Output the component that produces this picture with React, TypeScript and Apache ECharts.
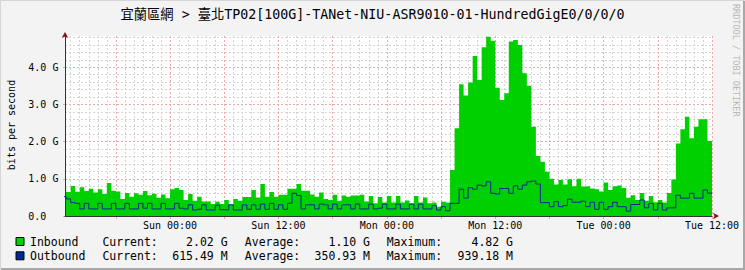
import React, { useEffect, useRef } from "react";
import * as echarts from "echarts";

const chartTitle = "宜蘭區網 > 臺北TP02[100G]-TANet-NIU-ASR9010-01-HundredGigE0/0/0/0";
const yAxisTitle = "bits per second";
const watermark = "RRDTOOL / TOBI OETIKER";

// time axis in hours relative to Sun 00:00; samples every 30 minutes
const firstSampleStart = -12;
const sampleHours = 0.5;
const viewStart = -11.63;
const viewEnd = 60;

// Gbit/s, one value per 30-minute step
const inbound = [
  0.81, 0.645, 0.81, 0.65, 0.77, 0.67, 0.73, 0.63, 0.72, 0.59,
  0.89, 0.68, 0.66, 0.46, 0.62, 0.52, 0.61, 0.57, 0.67, 0.56,
  0.60, 0.49, 0.58, 0.48, 0.72, 0.75, 0.70, 0.43, 0.59, 0.41,
  0.52, 0.39, 0.39, 0.32, 0.385, 0.32, 0.43, 0.31, 0.46, 0.41,
  0.51, 0.51, 0.70, 0.50, 0.86, 0.52, 0.645, 0.52, 0.57, 0.57,
  0.73, 0.73, 0.86, 0.68, 0.68, 0.58, 0.52, 0.63, 0.46, 0.43,
  0.57, 0.41, 0.55, 0.52, 0.55, 0.55, 0.57, 0.39, 0.54, 0.34,
  0.51, 0.36, 0.54, 0.36, 0.54, 0.36, 0.42, 0.34, 0.54, 0.36,
  0.50, 0.34, 0.36, 0.25, 0.385, 0.36, 1.24, 2.36, 3.54, 3.24,
  3.59, 4.30, 3.66, 4.54, 4.82, 4.71, 3.45, 3.12, 3.30, 4.69,
  4.73, 4.60, 3.84, 3.50, 2.40, 1.61, 1.46, 1.19, 1.00, 0.85,
  0.97, 0.85, 0.99, 0.80, 1.00, 0.79, 0.80, 0.74, 0.72, 0.66,
  0.90, 0.70, 0.80, 0.82, 0.75, 0.49, 0.56, 0.43, 0.62, 0.41,
  0.54, 0.37, 0.43, 0.36, 0.62, 0.98, 1.95, 2.33, 2.67, 2.09,
  2.40, 2.60, 2.60, 2.02,
];

const outbound = [
  0.52, 0.46, 0.36, 0.34, 0.19, 0.34, 0.19, 0.19, 0.34, 0.19,
  0.19, 0.34, 0.19, 0.19, 0.34, 0.19, 0.19, 0.34, 0.21, 0.34,
  0.19, 0.19, 0.34, 0.19, 0.19, 0.34, 0.21, 0.19, 0.30, 0.16,
  0.18, 0.30, 0.16, 0.16, 0.29, 0.17, 0.16, 0.30, 0.16, 0.16,
  0.30, 0.18, 0.30, 0.18, 0.32, 0.18, 0.34, 0.18, 0.30, 0.18,
  0.34, 0.61, 0.55, 0.19, 0.30, 0.30, 0.19, 0.32, 0.30, 0.19,
  0.32, 0.19, 0.30, 0.30, 0.19, 0.32, 0.19, 0.19, 0.32, 0.19,
  0.21, 0.32, 0.19, 0.19, 0.32, 0.19, 0.19, 0.32, 0.19, 0.32,
  0.19, 0.19, 0.28, 0.16, 0.25, 0.14, 0.34, 0.34, 0.72, 0.48,
  0.76, 0.72, 0.83, 0.81, 0.92, 0.61, 0.59, 0.74, 0.74, 0.61,
  0.81, 0.72, 0.83, 0.92, 0.94, 0.86, 0.36, 0.36, 0.25, 0.39,
  0.25, 0.28, 0.45, 0.37, 0.37, 0.40, 0.25, 0.37, 0.18, 0.37,
  0.18, 0.25, 0.37, 0.25, 0.25, 0.13, 0.31, 0.31, 0.43, 0.22,
  0.34, 0.16, 0.34, 0.16, 0.22, 0.22, 0.56, 0.48, 0.48, 0.61,
  0.48, 0.48, 0.70, 0.615,
];

const xLabelValues = [0, 12, 24, 36, 48, 60];
const xLabelTexts = ["Sun 00:00", "Sun 12:00", "Mon 00:00", "Mon 12:00", "Tue 00:00", "Tue 12:00"];
const xMajorTickValues = [-6, 0, 6, 12, 18, 24, 30, 36, 42, 48, 54, 60];
const yMax = 4.84;

const legendRows = [
  { name: "Inbound", color: "#00CF00", current: "2.02 G", average: "1.10 G", maximum: "4.82 G" },
  { name: "Outbound", color: "#002A97", current: "615.49 M", average: "350.93 M", maximum: "939.18 M" },
];

const MONO = "'DejaVu Sans Mono', 'Noto Sans CJK TC', monospace";

function toSteps(vals: number[]): number[][] {
  const d = vals.map((v, i) => [firstSampleStart + i * sampleHours, v]);
  d.push([firstSampleStart + vals.length * sampleHours, vals[vals.length - 1]]);
  return d;
}

export default function App() {
  const ref = useRef<HTMLDivElement>(null);
  useEffect(() => {
    if (!ref.current) return;
    const chart = echarts.init(ref.current, undefined, { renderer: "svg" });
    const W = 745;
    const H = 270;
    const plotLeft = 65;
    const plotRight = 33;
    const plotTop = 36;
    const plotBottom = 54;
    const pxPerHour = (W - plotLeft - plotRight) / (viewEnd - viewStart);
    const gridLeft2 = plotLeft - (viewStart - firstSampleStart) * pxPerHour;

    const minorColor = "#d4d4d4";
    const majorColor = "#eca8a8";
    const dash = [2, 2];

    const legendGraphics: any[] = [];
    legendRows.forEach((r, i) => {
      const cy = 242 + i * 14.3;
      legendGraphics.push({
        type: "rect",
        shape: { x: 16, y: cy - 4.5, width: 8, height: 8 },
        style: { fill: r.color, stroke: "#000", lineWidth: 1 },
      });
      const t = (text: string, x: number, align: string) => ({
        type: "text",
        x,
        y: cy,
        style: {
          text,
          fill: "#000",
          fontSize: 11.5,
          fontFamily: MONO,
          align,
          textAlign: align,
          verticalAlign: "middle",
          textVerticalAlign: "middle",
        },
      });
      legendGraphics.push(t(r.name, 30, "left"));
      legendGraphics.push(t("Current:", 102.4, "left"));
      legendGraphics.push(t(r.current, 227.6, "right"));
      legendGraphics.push(t("Average:", 244.8, "left"));
      legendGraphics.push(t(r.average, 370, "right"));
      legendGraphics.push(t("Maximum:", 386.7, "left"));
      legendGraphics.push(t(r.maximum, 513, "right"));
    });

    const hidden = {
      axisLine: { show: false },
      axisTick: { show: false },
      axisLabel: { show: false },
      splitLine: { show: false },
    };

    chart.setOption({
      animation: false,
      backgroundColor: "#f3f3f3",
      grid: [
        { left: plotLeft, right: plotRight, top: plotTop, bottom: plotBottom, show: true, backgroundColor: "#ffffff", borderWidth: 0 },
        { left: gridLeft2, right: plotRight, top: plotTop, bottom: plotBottom, show: false },
      ],
      xAxis: [
        {
          gridIndex: 0,
          type: "value",
          min: viewStart,
          max: viewEnd,
          position: "bottom",
          axisLine: { show: false, onZero: false },
          axisTick: { show: true, customValues: xMajorTickValues, length: 3, lineStyle: { color: majorColor } },
          axisLabel: {
            show: true,
            customValues: xLabelValues,
            formatter: (v: number) => {
              const idx = xLabelValues.indexOf(Math.round(v));
              return idx >= 0 ? xLabelTexts[idx] : "";
            },
            fontSize: 10,
            fontFamily: MONO,
            color: "#000",
            margin: 4,
          },
          splitLine: { show: false },
        },
        {
          gridIndex: 1,
          type: "value",
          min: firstSampleStart,
          max: viewEnd,
          interval: 1,
          position: "bottom",
          ...hidden,
          splitLine: { show: true, showMinLine: false, showMaxLine: false, lineStyle: { color: minorColor, type: dash, width: 1 } },
        },
        {
          gridIndex: 1,
          type: "value",
          min: firstSampleStart,
          max: viewEnd,
          interval: 6,
          position: "top",
          ...hidden,
          splitLine: { show: true, showMinLine: false, showMaxLine: true, lineStyle: { color: majorColor, type: dash, width: 1 } },
        },
        {
          gridIndex: 0,
          type: "value",
          min: viewStart,
          max: viewEnd,
          position: "bottom",
          z: 10,
          ...hidden,
          axisLine: { show: true, onZero: false, lineStyle: { color: "#333", width: 1 } },
        },
        {
          gridIndex: 0,
          type: "value",
          min: viewStart,
          max: viewEnd,
          position: "bottom",
          z: 11,
          ...hidden,
          axisLine: {
            show: true,
            onZero: false,
            symbol: ["none", "arrow"],
            symbolSize: [5, 6],
            symbolOffset: [0, 7],
            lineStyle: { color: "#8a1010", width: 0 },
          },
        },
      ],
      yAxis: [
        {
          gridIndex: 0,
          type: "value",
          min: 0,
          max: yMax,
          interval: 0.2,
          position: "right",
          ...hidden,
          splitLine: { show: true, showMinLine: false, showMaxLine: false, lineStyle: { color: minorColor, type: dash, width: 1 } },
        },
        {
          gridIndex: 0,
          type: "value",
          min: 0,
          max: yMax,
          interval: 1,
          position: "left",
          axisLine: { show: false, onZero: false },
          axisTick: { show: true, length: 2, lineStyle: { color: majorColor } },
          axisLabel: {
            show: true,
            formatter: (v: number) => {
              if (Math.abs(v - Math.round(v)) > 1e-6) return "";
              return v === 0 ? "0.0" : v.toFixed(1) + " G";
            },
            align: "left",
            margin: 36.7,
            fontSize: 10,
            fontFamily: MONO,
            color: "#000",
          },
          splitLine: { show: true, showMinLine: false, showMaxLine: false, lineStyle: { color: majorColor, type: dash, width: 1 } },
        },
        {
          gridIndex: 0,
          type: "value",
          min: 0,
          max: yMax,
          position: "left",
          z: 10,
          ...hidden,
          axisLine: { show: true, onZero: false, lineStyle: { color: "#333", width: 1 } },
        },
        {
          gridIndex: 0,
          type: "value",
          min: 0,
          max: yMax,
          position: "left",
          z: 11,
          ...hidden,
          axisLine: {
            show: true,
            onZero: false,
            symbol: ["none", "arrow"],
            symbolSize: [5, 6],
            symbolOffset: [0, 4],
            lineStyle: { color: "#8a1010", width: 0 },
          },
        },
        { gridIndex: 1, type: "value", min: 0, max: yMax, show: false },
      ],
      series: [
        {
          type: "line",
          name: "Inbound",
          xAxisIndex: 0,
          yAxisIndex: 1,
          data: toSteps(inbound),
          step: "end",
          symbol: "none",
          lineStyle: { width: 0, color: "#00CF00" },
          areaStyle: { color: "#00CF00", opacity: 1 },
          z: 2,
        },
        {
          type: "line",
          name: "Outbound",
          xAxisIndex: 0,
          yAxisIndex: 1,
          data: toSteps(outbound),
          step: "end",
          symbol: "none",
          lineStyle: { width: 1, color: "#002A97" },
          z: 3,
        },
      ],
      graphic: [
        {
          type: "polyline",
          shape: { points: [[0.5, H - 0.5], [0.5, 0.5], [W - 0.5, 0.5]] },
          style: { stroke: "#d6d6d6", lineWidth: 1, fill: null },
        },
        {
          type: "polyline",
          shape: { points: [[W - 1, 1], [W - 1, H - 1], [1, H - 1]] },
          style: { stroke: "#a8a8a8", lineWidth: 2, fill: null },
        },
        {
          type: "text",
          x: 372.5,
          y: 14,
          style: {
            text: chartTitle,
            fill: "#000",
            fontSize: 13.3,
            fontFamily: MONO,
            align: "center",
            textAlign: "center",
            verticalAlign: "middle",
            textVerticalAlign: "middle",
          },
        },
        {
          type: "text",
          x: 11,
          y: 125,
          rotation: Math.PI / 2,
          style: {
            text: yAxisTitle,
            fill: "#000",
            fontSize: 10,
            fontFamily: MONO,
            align: "center",
            textAlign: "center",
            verticalAlign: "middle",
            textVerticalAlign: "middle",
          },
        },
        {
          type: "text",
          x: 736,
          y: 4,
          rotation: -Math.PI / 2,
          style: {
            text: watermark,
            fill: "#b8b8b8",
            fontSize: 8.5,
            fontFamily: MONO,
            align: "left",
            textAlign: "left",
            verticalAlign: "middle",
            textVerticalAlign: "middle",
          },
        },
        ...legendGraphics,
      ],
    });
    return () => chart.dispose();
  }, []);
  return <div ref={ref} style={{ position: "absolute", left: 0, top: 0, width: 745, height: 270 }} />;
}
